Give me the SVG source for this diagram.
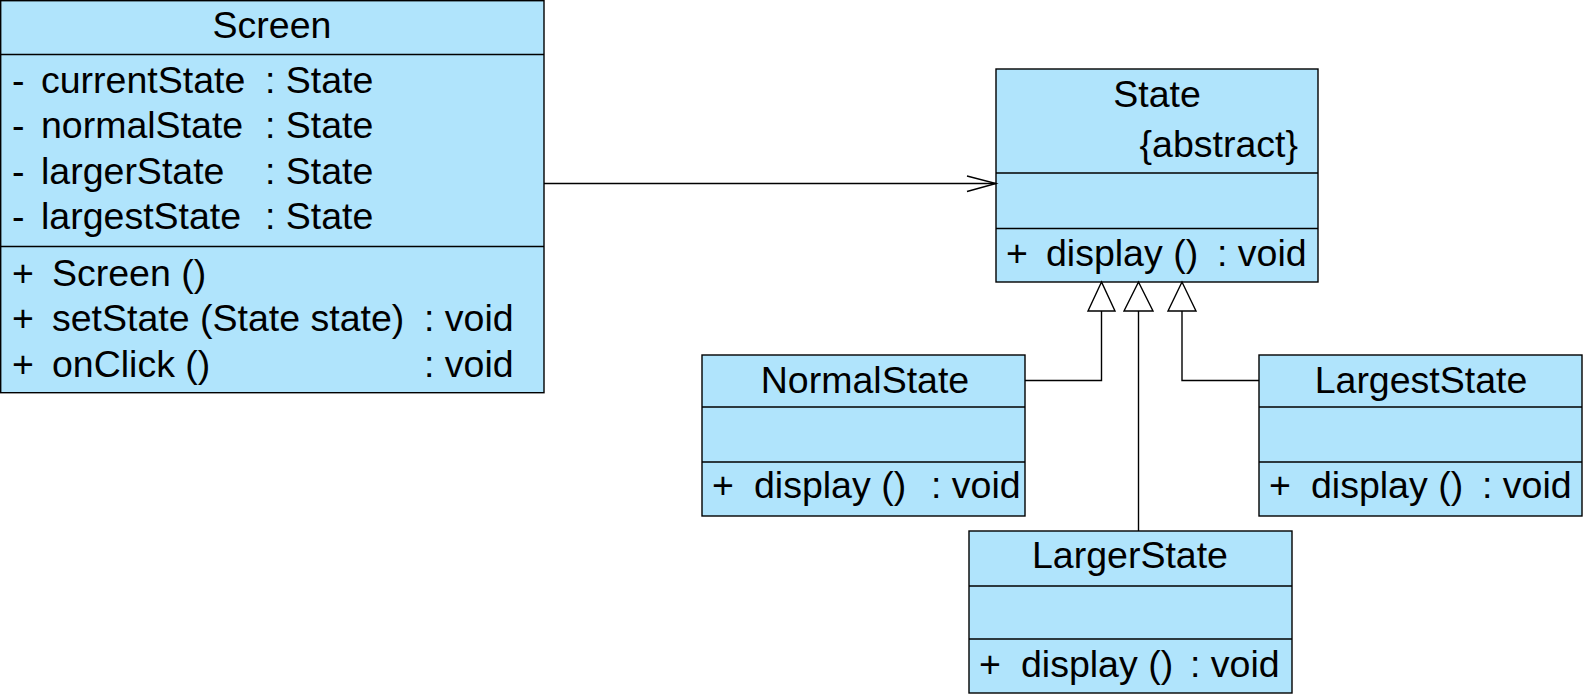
<svg xmlns="http://www.w3.org/2000/svg" width="1586" height="698" viewBox="0 0 1586 698">
<style>
.box{fill:#b0e4fc;stroke:#000;stroke-width:1.4}
.div{stroke:#000;stroke-width:1.4;fill:none}
text{font-family:"Liberation Sans",Arial,sans-serif;font-size:37.5px;fill:#000}
.c{text-anchor:middle}
.r{text-anchor:end}
.ln{stroke:#000;stroke-width:1.4;fill:none}
.tri{fill:#fff;stroke:#000;stroke-width:1.4}
</style>
<rect width="1586" height="698" fill="#fff"/>
<g id="Screen">
<rect class="box" x="0.7" y="0.7" width="543.3" height="392"/>
<line class="div" x1="0" y1="54.5" x2="544" y2="54.5"/>
<line class="div" x1="0" y1="246.5" x2="544" y2="246.5"/>
<text class="c" x="272" y="38">Screen</text>
<text x="12" y="93">-</text><text x="41" y="93">currentState</text><text x="265" y="93">: State</text>
<text x="12" y="138">-</text><text x="41" y="138">normalState</text><text x="265" y="138">: State</text>
<text x="12" y="184">-</text><text x="41" y="184">largerState</text><text x="265" y="184">: State</text>
<text x="12" y="229">-</text><text x="41" y="229">largestState</text><text x="265" y="229">: State</text>
<text x="12" y="286">+</text><text x="52" y="286">Screen ()</text>
<text x="12" y="331">+</text><text x="52" y="331">setState (State state)</text><text x="424" y="331">: void</text>
<text x="12" y="377">+</text><text x="52" y="377">onClick ()</text><text x="424" y="377">: void</text>
</g>
<g id="State">
<rect class="box" x="996" y="69" width="322" height="213"/>
<line class="div" x1="996" y1="173" x2="1318" y2="173"/>
<line class="div" x1="996" y1="228.5" x2="1318" y2="228.5"/>
<text class="c" x="1157" y="107">State</text>
<text class="r" x="1298" y="157">{abstract}</text>
<text x="1006" y="266">+</text><text x="1046" y="266">display ()</text><text x="1217" y="266">: void</text>
</g>
<g id="NormalState">
<rect class="box" x="702" y="355" width="323" height="161"/>
<line class="div" x1="702" y1="407" x2="1025" y2="407"/>
<line class="div" x1="702" y1="462" x2="1025" y2="462"/>
<text class="c" x="865" y="393">NormalState</text>
<text x="712" y="498">+</text><text x="754" y="498">display ()</text><text x="931" y="498">: void</text>
</g>
<g id="LargestState">
<rect class="box" x="1259" y="355" width="323" height="161"/>
<line class="div" x1="1259" y1="407" x2="1582" y2="407"/>
<line class="div" x1="1259" y1="462" x2="1582" y2="462"/>
<text class="c" x="1421" y="393">LargestState</text>
<text x="1269" y="498">+</text><text x="1311" y="498">display ()</text><text x="1482" y="498">: void</text>
</g>
<g id="LargerState">
<rect class="box" x="969" y="531" width="323" height="162"/>
<line class="div" x1="969" y1="586" x2="1292" y2="586"/>
<line class="div" x1="969" y1="639" x2="1292" y2="639"/>
<text class="c" x="1130" y="568">LargerState</text>
<text x="979" y="677">+</text><text x="1021" y="677">display ()</text><text x="1190" y="677">: void</text>
</g>
<g id="connectors">
<line class="ln" x1="544" y1="183.5" x2="996" y2="183.5"/>
<polyline class="ln" points="967,176 996,183.5 967,191.5"/>
<polyline class="ln" points="1025,380.5 1101.5,380.5 1101.5,311"/>
<polygon class="tri" points="1101.5,282 1088,311 1115,311"/>
<line class="ln" x1="1138.5" y1="531" x2="1138.5" y2="311"/>
<polygon class="tri" points="1138.5,282 1124,311 1153,311"/>
<polyline class="ln" points="1259,380.5 1182,380.5 1182,311"/>
<polygon class="tri" points="1182,282 1168,311 1196,311"/>
</g>
</svg>
